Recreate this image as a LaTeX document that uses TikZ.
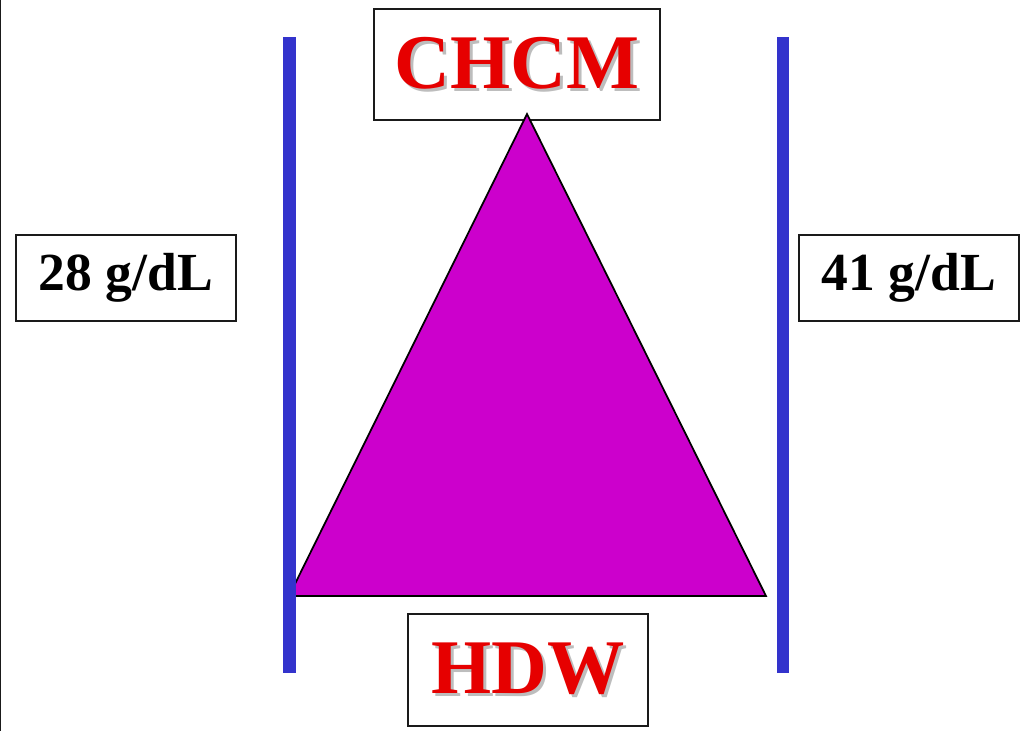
\documentclass[tikz,border=0pt]{standalone}
\usepackage{fontspec}
\setmainfont{Liberation Serif}
\usepackage{xcolor}
\usepackage{tikz}
\usetikzlibrary{positioning}
\definecolor{barblue}{HTML}{3333CC}
\definecolor{magenta}{HTML}{CC00CC}
\definecolor{wordred}{HTML}{E60000}
\definecolor{shade}{HTML}{BDBDBD}
\definecolor{frame}{HTML}{1A1A1A}
\tikzset{
  font=\bfseries,
  bar/.style={draw=barblue, line width=7pt},
  tri/.style={fill=magenta, draw=black, line width=1pt, line join=miter},
  labelbox/.style={draw=frame, line width=0.9pt, fill=white, inner sep=0pt},
  bigword/.style={font=\fontsize{44}{44}\selectfont\bfseries, text=wordred, inner sep=0pt},
  valword/.style={font=\fontsize{30.5}{30.5}\selectfont\bfseries, text=black, inner sep=0pt},
  edge/.style={draw=frame, line width=1pt}
}
% red word with a grey drop shadow
\newcommand{\dropword}[1]{\makebox[0pt][l]{\hspace{1.6pt}\raisebox{-1.6pt}{\textcolor{shade}{#1}}}#1}

\begin{document}
\begin{tikzpicture}[x=0.02cm,y=-0.02cm]
  \useasboundingbox[fill=white] (0,0) rectangle (1035,731);
  \draw[edge] (0.5,0) -- (0.5,731);

  % ---- Boxes ----
  \node[labelbox, minimum width=5.72cm, minimum height=2.22cm] (chcm) at (517,64.5) {};
  \node[labelbox, minimum width=4.8cm,  minimum height=2.24cm] (hdw)  at (528,670) {};
  \node[labelbox, minimum width=4.4cm,  minimum height=1.72cm] (low)  at (126,278) {};
  \node[labelbox, minimum width=4.4cm,  minimum height=1.72cm] (high) at (909,278) {};

  % ---- Words ----
  \node[bigword] (chcmtxt) at (chcm.center) {\dropword{CHCM}};
  \node[bigword] (hdwtxt)  at (hdw.center)  {\dropword{HDW}};
  \node[valword] (lowtxt)  at (low.center)  {28 g/dL};
  \node[valword] (hightxt) at (high.center) {41 g/dL};

  % ---- Triangle ----
  \draw[tri] (289,596) -- (527,114) -- (766,596) -- cycle;

  % ---- Bars ----
  \draw[bar] (289.5,37) -- (289.5,673);
  \draw[bar] (783,37) -- (783,673);
\end{tikzpicture}
\end{document}
